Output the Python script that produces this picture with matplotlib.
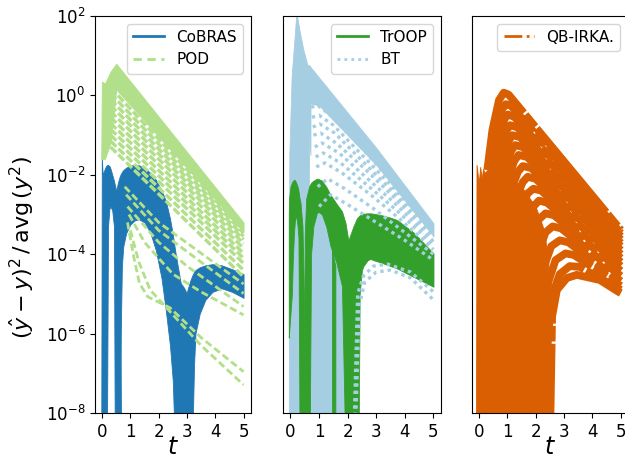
import numpy as np
import matplotlib
matplotlib.use("Agg")
import matplotlib.pyplot as plt
from matplotlib.lines import Line2D
from matplotlib.ticker import NullLocator

# ---------------- colours ----------------
C_COBRAS = "#1f78b4"
C_POD = "#b2df8a"
C_TROOP = "#33a02c"
C_BT = "#a6cee3"
C_QB = "#d95f02"

FLOOR = -9.0  # below the axis floor (1e-8)

# ---------------- panel 1 : CoBRAS (log10 of error, filled bundles) ----------------
cobras_l1_t = [-0.03, -0.01, 0.02, 0.08, 0.14, 0.17, 0.21, 0.26, 0.30, 0.36, 0.42, 0.45, 0.50, 0.56, 0.62, 0.68]
cobras_l1_up = [FLOOR, -1.55, -2.0, -1.88, -1.78, -1.76, -1.75, -1.78, -1.85, -2.0, -2.15, -2.25, -2.4, -2.9, -4.0, FLOOR]
cobras_l1_lo = [FLOOR, FLOOR, FLOOR, FLOOR, FLOOR, FLOOR, -3.3, -2.85, -2.8, -2.9, -3.3, FLOOR, FLOOR, FLOOR, FLOOR, FLOOR]

cobras_l2_t = [0.50, 0.56, 0.62, 0.66, 0.70, 0.75, 0.85, 1.0, 1.15, 1.3, 1.5, 1.7, 1.9, 2.1, 2.25, 2.4,
               2.5, 2.58, 2.65, 2.78, 2.9, 3.0, 3.12, 3.17, 3.2]
cobras_l2_up = [-2.4, -2.2, -2.05, -1.98, -1.93, -1.88, -1.82, -1.77, -1.75, -1.76, -1.82, -1.95, -2.12, -2.4,
                -2.65, -3.1, -3.5, -3.9, -4.2, -4.73, -4.85, -5.0, -5.5, -7.0, FLOOR]
cobras_l2_lo = [FLOOR, FLOOR, FLOOR, -6.0, -4.3, -3.8, -3.47, -3.25, -3.15, -3.12, -3.2, -3.45, -3.9, -4.6,
                -5.4, -6.3, -7.2, FLOOR, FLOOR, FLOOR, FLOOR, FLOOR, FLOOR, FLOOR, FLOOR]

cobras_l3_t = [3.0, 3.1, 3.18, 3.25, 3.3, 3.45, 3.65, 3.9, 4.23, 4.6, 5.0]
cobras_l3_up = [-4.95, -4.7, -4.55, -4.45, -4.4, -4.33, -4.28, -4.25, -4.28, -4.38, -4.5]
cobras_l3_lo = [FLOOR, FLOOR, FLOOR, -6.8, -6.0, -5.5, -5.15, -4.95, -4.86, -4.95, -5.1]

# ---------------- panel 1 : POD ----------------
pod_wedge_t = [-0.03, -0.01, 0.1, 0.3, 0.5, 5.0]
pod_wedge_up = [-1.6, 0.35, 0.3, 0.6, 0.8, -3.2]
pod_wedge_lo = [-1.6, -1.6, -1.6, -1.2, 0.15, -3.42]

pod_fan_t = [0.3, 5.0]
pod_fan_logs = [
    [0.2, -3.4],
    [0.05, -3.47],
    [-0.1, -3.55],
    [-0.25, -3.63],
    [-0.4, -3.73],
    [-0.55, -3.85],
    [-0.7, -3.98],
    [-0.85, -4.1],
    [-1.0, -4.23],
    [-1.15, -4.4],
    [-1.3, -4.57],
]
pod_low_t = [
    [0.9, 1.1, 1.32, 1.61, 2.4, 3.5, 5.0],
    [1.0, 1.3, 1.7, 2.6, 3.5, 5.0],
    [0.95, 1.5, 2.5, 3.5, 5.0],
    [0.9, 2.0, 3.0, 5.0],
    [0.85, 2.0, 3.5, 5.0],
    [0.8, 2.0, 5.0],
]
pod_low_log = [
    [-3.2, -4.0, -4.73, -5.07, -5.35, -6.1, -6.96],
    [-3.4, -4.2, -4.9, -5.6, -6.3, -7.29],
    [-3.0, -3.7, -4.5, -4.95, -5.53],
    [-2.8, -3.7, -4.3, -5.32],
    [-2.5, -3.4, -4.2, -4.99],
    [-2.3, -3.2, -4.75],
]

# ---------------- panel 2 : TrOOP ----------------
troop_l1_t = [-0.06, -0.05, 0.0, 0.05, 0.08, 0.12, 0.15, 0.2, 0.25, 0.28, 0.32, 0.35, 0.42, 0.47, 0.5]
troop_l1_up = [-3.0, -2.6, -2.3, -2.2, -2.16, -2.13, -2.13, -2.2, -2.3, -2.4, -2.6, -2.7, -3.3, -5.0, FLOOR]
troop_l1_lo = [-6.1, -6.0, -5.5, -5.0, -4.2, -3.5, -3.2, -3.0, -3.3, -3.6, FLOOR, FLOOR, FLOOR, FLOOR, FLOOR]

troop_l2_t = [0.47, 0.5, 0.55, 0.65, 0.67, 0.72, 0.8, 0.92, 0.96, 1.05, 1.1, 1.2, 1.25, 1.4, 1.6, 1.8, 1.92,
              2.0, 2.1, 2.2, 2.3, 2.38]
troop_l2_up = [FLOOR, -3.5, -2.6, -2.3, -2.27, -2.2, -2.15, -2.1, -2.1, -2.13, -2.15, -2.25, -2.3, -2.5, -2.72,
               -2.92, -3.2, -3.55, -4.0, -5.1, -6.5, FLOOR]
troop_l2_lo = [FLOOR, FLOOR, FLOOR, FLOOR, FLOOR, -4.0, -3.3, -2.97, -2.93, -2.97, -3.0, -3.2, -3.3, -3.8, -4.2,
               -4.8, FLOOR, FLOOR, FLOOR, FLOOR, FLOOR, FLOOR]
troop_leg_t = [1.45, 1.57]
troop_leg_up = [-3.9, -4.3]

troop_l3_t = [2.0, 2.1, 2.2, 2.32, 2.38, 2.42, 2.5, 2.55, 2.7, 2.8, 2.9, 3.2, 3.5, 3.73, 4.3, 5.0]
troop_l3_up = [-3.7, -3.5, -3.3, -3.1, -3.05, -3.02, -3.0, -2.98, -2.97, -2.97, -2.98, -3.02, -3.08, -3.14, -3.45, -3.98]
troop_l3_lo = [FLOOR, FLOOR, FLOOR, FLOOR, FLOOR, -5.0, -4.4, -4.3, -4.15, -4.12, -4.15, -4.22, -4.3, -4.36, -4.57, -4.82]

# ---------------- panel 2 : BT ----------------
bt_spike_t = [-0.06, -0.04, 0.04, 0.21, 0.3, 0.45, 0.6, 0.65, 0.7]
bt_spike_up = [FLOOR, -1.5, 0.47, 2.1, 1.7, 1.15, 0.75, 0.76, 0.7]
bt_spike_lo = [FLOOR, FLOOR, FLOOR, FLOOR, FLOOR, FLOOR, FLOOR, -1.0, -1.5]

bt_wedge_t = [0.6, 0.65, 1.0, 3.0, 5.0]
bt_wedge_up = [0.75, 0.76, 0.45, -1.32, -3.22]
bt_wedge_lo = [-1.0, -0.2, -0.25, -1.75, -3.55]

bt_floor_t = [0.55, 0.7, 1.0, 1.3, 1.6, 1.9, 2.2, 2.4]
bt_floor_up = [-2.0, -2.6, -2.9, -3.0, -3.3, -3.8, -4.5, FLOOR]

bt_arc_t = [
    [0.72, 0.95, 1.4, 2.4, 3.4, 5.0],
    [0.75, 1.0, 1.5, 2.5, 3.5, 5.0],
    [0.78, 1.02, 1.55, 2.55, 3.55, 5.0],
    [0.8, 1.05, 1.6, 2.6, 3.6, 5.0],
    [0.85, 1.1, 1.7, 2.7, 3.7, 5.0],
    [0.88, 1.15, 1.75, 2.75, 3.75, 5.0],
    [0.9, 1.2, 1.8, 2.8, 3.8, 5.0],
    [0.95, 1.3, 1.9, 2.9, 3.9, 5.0],
    [1.0, 1.4, 2.0, 3.0, 4.0, 5.0],
    [2.25, 2.4, 2.6, 3.0, 3.5, 4.2, 5.0],
    [2.2, 2.35, 2.55, 2.9, 3.4, 4.2, 5.0],
]
bt_arc_log = [
    [-0.3, -0.25, -0.5, -1.25, -2.05, -3.33],
    [-0.55, -0.5, -0.75, -1.5, -2.25, -3.42],
    [-0.8, -0.72, -0.95, -1.68, -2.4, -3.5],
    [-1.0, -0.95, -1.2, -1.85, -2.55, -3.58],
    [-1.3, -1.2, -1.45, -2.1, -2.75, -3.68],
    [-1.55, -1.45, -1.7, -2.3, -2.92, -3.78],
    [-1.8, -1.7, -1.95, -2.5, -3.1, -3.88],
    [-2.3, -2.1, -2.35, -2.85, -3.4, -4.0],
    [-2.8, -2.5, -2.75, -3.2, -3.65, -4.15],
    [FLOOR, -5.3, -4.7, -4.45, -4.4, -4.6, -5.15],
    [FLOOR, -5.0, -4.55, -4.3, -4.25, -4.45, -4.95],
]

# ---------------- panel 3 : QB-IRKA ----------------
qb_base_t = [-0.1, -0.08, 0.0, 0.05, 0.1, 0.15, 0.2, 0.3, 0.4, 0.5, 1.0, 1.5, 2.0, 2.3, 2.45, 2.5]
qb_base_up = [FLOOR, -1.75, -2.2, -1.8, -2.1, -1.85, -1.95, -1.88, -1.85, -1.9, -2.0, -2.3, -2.8, -3.4, -4.2, FLOOR]

qb_arc_t = [
    [0.30, 0.48, 0.71, 0.88, 1.05, 5.0],
    [0.45, 0.65, 0.82, 0.95, 1.15, 5.0],
    [0.55, 0.75, 0.90, 1.02, 1.25, 5.0],
    [0.62, 0.82, 0.98, 1.10, 1.35, 5.0],
    [0.70, 0.90, 1.05, 1.18, 1.45, 5.0],
    [0.78, 0.98, 1.14, 1.28, 1.55, 5.0],
    [0.88, 1.08, 1.25, 1.40, 1.70, 5.0],
    [0.98, 1.20, 1.38, 1.55, 1.85, 5.0],
    [1.10, 1.35, 1.55, 1.72, 2.00, 5.0],
    [1.25, 1.50, 1.72, 1.92, 2.20, 5.0],
    [1.45, 1.70, 1.92, 2.12, 2.40, 5.0],
    [1.65, 1.90, 2.12, 2.35, 2.65, 5.0],
    [1.90, 2.12, 2.35, 2.60, 2.90, 5.0],
    [2.10, 2.30, 2.55, 2.85, 3.15, 5.0],
    [2.25, 2.45, 2.70, 3.05, 3.35, 5.0],
    [2.40, 2.55, 2.85, 3.20, 3.55, 5.0],
    [2.50, 2.58, 2.75, 3.10, 3.45, 4.26, 4.9, 5.0],
]
qb_arc_log = [
    [-1.88, -0.87, -0.12, 0.07, 0.02, -3.39],
    [-1.9, -0.8, -0.35, -0.22, -0.27, -3.47],
    [-2.0, -1.0, -0.6, -0.48, -0.54, -3.55],
    [-2.2, -1.25, -0.88, -0.75, -0.8, -3.63],
    [-2.4, -1.5, -1.15, -1.0, -1.05, -3.72],
    [-2.6, -1.75, -1.4, -1.25, -1.3, -3.8],
    [-2.8, -2.0, -1.65, -1.5, -1.55, -3.9],
    [-3.0, -2.25, -1.92, -1.78, -1.83, -4.0],
    [-3.3, -2.5, -2.18, -2.05, -2.1, -4.1],
    [-3.6, -2.8, -2.47, -2.35, -2.4, -4.2],
    [-4.0, -3.15, -2.8, -2.65, -2.7, -4.3],
    [-4.4, -3.5, -3.12, -2.97, -3.02, -4.42],
    [-4.8, -3.9, -3.45, -3.3, -3.35, -4.55],
    [-5.2, -4.3, -3.8, -3.65, -3.7, -4.68],
    [-5.8, -4.7, -4.15, -3.98, -4.02, -4.8],
    [-6.5, -5.1, -4.5, -4.3, -4.32, -4.9],
    [FLOOR, -5.57, -4.9, -4.6, -4.52, -4.65, -4.94, -4.98],
]

x_ticks = [0, 1, 2, 3, 4, 5]
y_ticks = [1e-8, 1e-6, 1e-4, 1e-2, 1e0, 1e2]


def p(v):
    return 10.0 ** np.asarray(v, dtype=float)


def band(ax, t, up, lo, color, z):
    ax.fill_between(t, p(lo), p(up), color=color, lw=0.6, edgecolor=color, zorder=z)


fig = plt.figure(figsize=(6.25, 4.58), dpi=100)
ax1 = fig.add_axes([0.152, 0.0983, 0.249, 0.8667])
ax2 = fig.add_axes([0.4533, 0.0983, 0.2517, 0.8667], sharey=ax1)
ax3 = fig.add_axes([0.7547, 0.0983, 0.2500, 0.8667], sharey=ax1)

# panel 1
band(ax1, cobras_l1_t, cobras_l1_up, cobras_l1_lo, C_COBRAS, 2)
band(ax1, cobras_l2_t, cobras_l2_up, cobras_l2_lo, C_COBRAS, 2)
band(ax1, cobras_l3_t, cobras_l3_up, cobras_l3_lo, C_COBRAS, 2)
band(ax1, pod_wedge_t, pod_wedge_up, pod_wedge_lo, C_POD, 3)
for lg in pod_fan_logs:
    ax1.plot(pod_fan_t, p(lg), color=C_POD, lw=2.4, ls=(0, (2.4, 0.9)), zorder=3)
for tt, lg in zip(pod_low_t, pod_low_log):
    ax1.plot(tt, p(lg), color=C_POD, lw=2, ls=(0, (2.6, 1.3)), zorder=3)

# panel 2
band(ax2, bt_spike_t, bt_spike_up, bt_spike_lo, C_BT, 1)
band(ax2, bt_wedge_t, bt_wedge_up, bt_wedge_lo, C_BT, 1)
band(ax2, bt_floor_t, bt_floor_up, [FLOOR] * len(bt_floor_t), C_BT, 1)
band(ax2, troop_l1_t, troop_l1_up, troop_l1_lo, C_TROOP, 2)
band(ax2, troop_l2_t, troop_l2_up, troop_l2_lo, C_TROOP, 2)
band(ax2, troop_leg_t, troop_leg_up, [FLOOR, FLOOR], C_TROOP, 2)
band(ax2, troop_l3_t, troop_l3_up, troop_l3_lo, C_TROOP, 2)
for tt, lg in zip(bt_arc_t, bt_arc_log):
    ax2.plot(tt, p(lg), color=C_BT, lw=2.4, ls=(0, (1, 1.2)), zorder=3)

# panel 3
band(ax3, qb_base_t, qb_base_up, [FLOOR] * len(qb_base_t), C_QB, 2)
for tt, lg in zip(qb_arc_t, qb_arc_log):
    ax3.plot(tt, p(lg), color=C_QB, lw=5.6, ls=(0, (14, 0.3, 2, 0.3)), zorder=2,
             solid_capstyle="butt", solid_joinstyle="round", dash_joinstyle="round")

# axes styling
for ax in (ax1, ax2, ax3):
    ax.set_yscale("log")
    ax.set_ylim(1e-8, 1e2)
    ax.set_xlim(-0.25, 5.25)
    ax.set_xticks(x_ticks)
    ax.tick_params(axis="x", labelsize=12)
ax1.set_yticks(y_ticks)
ax1.yaxis.set_minor_locator(NullLocator())
ax1.tick_params(axis="y", labelsize=12)
for ax in (ax2, ax3):
    ax.tick_params(axis="y", which="both", left=False, labelleft=False)

ax1.set_ylabel(r"$(\hat{y} - y)^2\,/\,\mathrm{avg}\,(y^2)$", fontsize=16)
ax1.yaxis.set_label_coords(-0.37, 0.418)
ax1.set_xlabel(r"$t$", fontsize=17, labelpad=-4)
ax3.set_xlabel(r"$t$", fontsize=17, labelpad=-4)

leg_kw = dict(loc="upper right", fontsize=11, handlelength=2.0)
h1 = [Line2D([], [], color=C_COBRAS, lw=2, ls="-"),
      Line2D([], [], color=C_POD, lw=2, ls=(0, (3, 2)))]
ax1.legend(h1, ["CoBRAS", "POD"], **leg_kw)
h2 = [Line2D([], [], color=C_TROOP, lw=2, ls="-"),
      Line2D([], [], color=C_BT, lw=2, ls=(0, (1, 1.5)))]
ax2.legend(h2, ["TrOOP", "BT"], **leg_kw)
h3 = [Line2D([], [], color=C_QB, lw=2, ls="-.")]
ax3.legend(h3, ["QB-IRKA."], **leg_kw)

fig.savefig("out.png", dpi=100)
